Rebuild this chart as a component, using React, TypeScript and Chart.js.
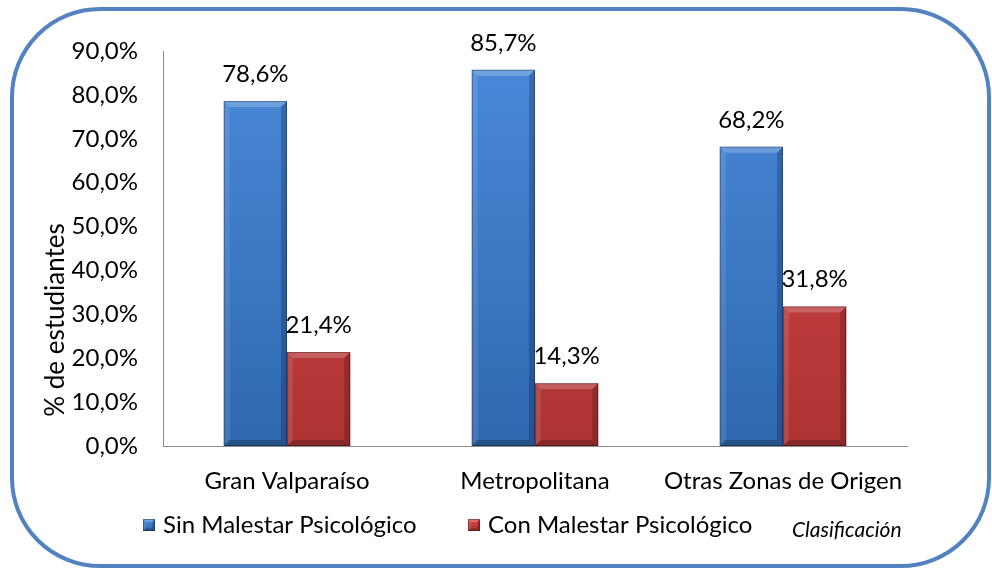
import React, { useEffect, useRef } from "react";
import { Chart, registerables } from "chart.js";
Chart.register(...registerables);

const categories = ["Gran Valparaíso", "Metropolitana", "Otras Zonas de Origen"];
const sinMalestar = [78.6, 85.7, 68.2];
const conMalestar = [21.4, 14.3, 31.8];
const seriesNames = ["Sin Malestar Psicológico", "Con Malestar Psicológico"];
const yTicks = [0, 10, 20, 30, 40, 50, 60, 70, 80, 90];
const yTitle = "% de estudiantes";
const xTitle = "Clasificación";

const FONT = "Lato, 'Open Sans', sans-serif";
const fmt = (v: number) => v.toFixed(1).replace(".", ",") + "%";

const palette = [
  { top: "#4A8ADA", bottom: "#3068B0", light: "rgba(255,255,255,0.22)", dark: "rgba(0,0,30,0.22)" },
  { top: "#D84A4A", bottom: "#AD3333", light: "rgba(255,255,255,0.2)", dark: "rgba(40,0,0,0.22)" },
];

function bevel(ctx: CanvasRenderingContext2D, x0: number, y0: number, x1: number, y1: number, p: any, b: number) {
  const w = x1 - x0, h = y1 - y0;
  if (w <= 0 || h <= 0) return;
  b = Math.min(b, w / 2, h / 2);
  ctx.save();
  ctx.fillStyle = p.light;
  ctx.beginPath();
  ctx.moveTo(x0, y0); ctx.lineTo(x1, y0); ctx.lineTo(x1 - b, y0 + b); ctx.lineTo(x0 + b, y0 + b); ctx.closePath(); ctx.fill();
  ctx.fillStyle = "rgba(255,255,255,0.1)";
  ctx.beginPath();
  ctx.moveTo(x0, y0); ctx.lineTo(x0 + b, y0 + b); ctx.lineTo(x0 + b, y1 - b); ctx.lineTo(x0, y1); ctx.closePath(); ctx.fill();
  ctx.fillStyle = p.dark;
  ctx.beginPath();
  ctx.moveTo(x1, y0); ctx.lineTo(x1, y1); ctx.lineTo(x1 - b, y1 - b); ctx.lineTo(x1 - b, y0 + b); ctx.closePath(); ctx.fill();
  ctx.fillStyle = "rgba(0,0,0,0.22)";
  ctx.beginPath();
  ctx.moveTo(x0, y1); ctx.lineTo(x0 + b, y1 - b); ctx.lineTo(x1 - b, y1 - b); ctx.lineTo(x1, y1); ctx.closePath(); ctx.fill();
  ctx.strokeStyle = "rgba(0,0,0,0.3)";
  ctx.lineWidth = 1;
  ctx.strokeRect(x0 + 0.5, y0 + 0.5, w - 1, h - 1);
  ctx.restore();
}

const decorPlugin = {
  id: "decor",
  beforeDraw(chart: any) {
    const ctx = chart.ctx;
    ctx.save();
    ctx.fillStyle = "#ffffff";
    ctx.fillRect(0, 0, chart.width, chart.height);
    ctx.strokeStyle = "#5282C0";
    ctx.lineWidth = 4;
    ctx.beginPath();
    (ctx as any).roundRect(12, 9, 977, 557, 88);
    ctx.stroke();
    ctx.restore();
  },
  afterDatasetsDraw(chart: any) {
    const ctx = chart.ctx;
    chart.data.datasets.forEach((ds: any, di: number) => {
      const meta = chart.getDatasetMeta(di);
      meta.data.forEach((el: any, i: number) => {
        const x0 = el.x - el.width / 2, x1 = el.x + el.width / 2;
        bevel(ctx, x0, el.y, x1, el.base, palette[di], 6);
        ctx.save();
        ctx.fillStyle = "#000";
        ctx.font = `24px ${FONT}`;
        ctx.textAlign = "center";
        ctx.textBaseline = "alphabetic";
        ctx.fillText(fmt(ds.data[i]), el.x, el.y - 19);
        ctx.restore();
      });
    });
    ctx.save();
    ctx.translate(56, 320);
    ctx.rotate(-Math.PI / 2);
    ctx.fillStyle = "#000";
    ctx.font = `26px ${FONT}`;
    ctx.textAlign = "center";
    ctx.textBaseline = "middle";
    ctx.fillText(yTitle, 0, 0);
    ctx.restore();
    const items = [
      { x: 143, tx: 163 },
      { x: 468, tx: 488 },
    ];
    items.forEach((it, di) => {
      const p = palette[di];
      const g = ctx.createLinearGradient(0, 519, 0, 531);
      g.addColorStop(0, p.top);
      g.addColorStop(1, p.bottom);
      ctx.save();
      ctx.fillStyle = g;
      ctx.fillRect(it.x, 519, 12, 12);
      ctx.restore();
      bevel(ctx, it.x, 519, it.x + 12, 531, p, 3);
      ctx.save();
      ctx.fillStyle = "#000";
      ctx.font = `24px ${FONT}`;
      ctx.textAlign = "left";
      ctx.textBaseline = "middle";
      ctx.fillText(seriesNames[di], it.tx, 525);
      ctx.restore();
    });
    ctx.save();
    ctx.fillStyle = "#000";
    ctx.font = `italic 21px ${FONT}`;
    ctx.textAlign = "left";
    ctx.textBaseline = "middle";
    ctx.fillText(xTitle, 792, 530);
    ctx.restore();
  },
};

export default function App() {
  const ref = useRef<HTMLCanvasElement>(null);
  useEffect(() => {
    const canvas = ref.current!;
    const grad = (di: number) => (c: any) => {
      const area = c.chart.chartArea;
      if (!area) return palette[di].top;
      const g = c.chart.ctx.createLinearGradient(0, area.top, 0, area.bottom);
      g.addColorStop(0, palette[di].top);
      g.addColorStop(1, palette[di].bottom);
      return g;
    };
    const chart = new Chart(canvas, {
      type: "bar",
      data: {
        labels: categories,
        datasets: [
          { label: seriesNames[0], data: sinMalestar, backgroundColor: grad(0), borderWidth: 0 },
          { label: seriesNames[1], data: conMalestar, backgroundColor: grad(1), borderWidth: 0 },
        ],
      },
      options: {
        responsive: false,
        animation: false,
        events: [],
        layout: { padding: { left: 0, top: 51, right: 85, bottom: 0 } },
        plugins: { legend: { display: false }, tooltip: { enabled: false }, title: { display: false } },
        datasets: { bar: { categoryPercentage: 0.51, barPercentage: 1 } },
        scales: {
          x: {
            grid: { display: false, drawTicks: false },
            border: { display: true, color: "#8C8C8C", width: 1 },
            ticks: { color: "#000", font: { family: FONT, size: 24 }, padding: 21, maxRotation: 0, autoSkip: false },
            afterFit: (s: any) => { s.height = 123; },
          },
          y: {
            min: 0,
            max: 90,
            afterBuildTicks: (s: any) => { s.ticks = yTicks.map((v) => ({ value: v })); },
            grid: { display: false, drawTicks: false },
            border: { display: true, color: "#8C8C8C", width: 1 },
            ticks: { color: "#000", font: { family: FONT, size: 24 }, padding: 25, callback: (v: any) => fmt(Number(v)) },
            afterFit: (s: any) => { s.width = 163; },
          },
        },
      },
      plugins: [decorPlugin],
    });
    return () => chart.destroy();
  }, []);
  return (
    <div style={{ position: "absolute", left: 0, top: 0, width: 992, height: 569 }}>
      <canvas ref={ref} width={992} height={569} style={{ display: "block" }} />
    </div>
  );
}
